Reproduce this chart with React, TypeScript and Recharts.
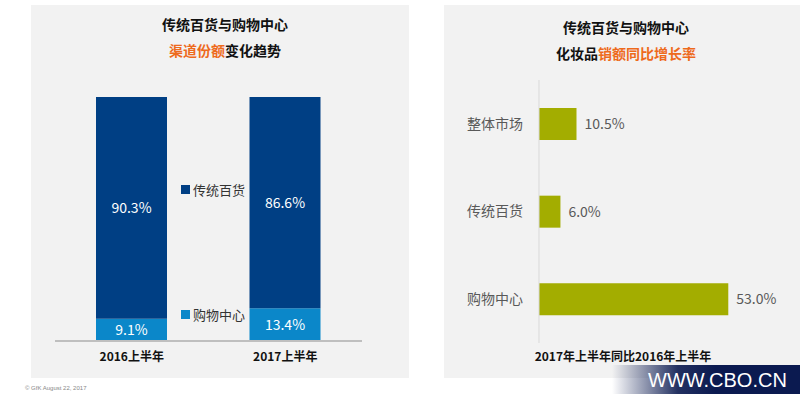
import { BarChart, Bar, XAxis, YAxis, LabelList, Legend } from "recharts";

const periods = ["2016上半年", "2017上半年"];
const deptShare = [90.3, 86.6];
const mallShare = [9.1, 13.4];

const channels = ["整体市场", "传统百货", "购物中心"];
const growth = [10.5, 6.0, 53.0];

const DARK = "#003f84";
const LIGHT = "#0b87c9";
const OLIVE = "#a3ad00";
const PANEL = "#f2f2f2";
const ORANGE = "#ee6a1c";
const FONT = '"Noto Sans CJK SC", "Noto Sans", sans-serif';

const shareData = periods.map((p, i) => ({ period: p, dept: deptShare[i], mall: mallShare[i] }));
const growthData = channels.map((c, i) => ({ channel: c, growth: growth[i] }));

const pct = (v: number) => `${Number(v).toFixed(1)}%`;

const YearTick = ({ x, y, payload }: any) => (
  <text x={x} y={y} dy={12} textAnchor="middle" fontSize={12} fontWeight="bold" fill="#111" fontFamily={FONT}>
    {payload.value}
  </text>
);

// dark series sits next to the top of the bars, light one down by the base
const ShareLegend = ({ payload }: any) => {
  const items = [...(payload || [])].sort((a: any) => (a.dataKey === "dept" ? -1 : 1));
  return (
    <div style={{ fontFamily: FONT, fontSize: 13, color: "#333" }}>
      {items.map((it: any, i: number) => (
        <div key={it.value} style={{ display: "flex", alignItems: "center", height: 18, marginTop: i === 0 ? 0 : 107 }}>
          <span style={{ width: 9, height: 9, background: it.color, marginRight: 3, display: "inline-block" }} />
          {it.value}
        </div>
      ))}
    </div>
  );
};

const titleLine: React.CSSProperties = {
  fontFamily: FONT,
  fontWeight: "bold",
  fontSize: 14,
  color: "#111",
  textAlign: "center",
  lineHeight: "26px",
};

export default function App() {
  return (
    <div style={{ position: "absolute", left: 0, top: 0, width: 800, height: 394, background: "#fff", overflow: "hidden" }}>
      {/* left panel */}
      <div style={{ position: "absolute", left: 31, top: 5, width: 378, height: 373, background: PANEL }}>
        <div style={{ position: "absolute", left: 0, top: 6, width: 388 }}>
          <div style={titleLine}>传统百货与购物中心</div>
          <div style={titleLine}>
            <span style={{ color: ORANGE }}>渠道份额</span>变化趋势
          </div>
        </div>
        <div style={{ position: "absolute", left: 0, top: 0 }}>
          <BarChart
            width={378}
            height={373}
            data={shareData}
            stackOffset="expand"
            barSize={71}
            margin={{ top: 92, right: 47, left: 24, bottom: 0 }}
          >
            <XAxis
              dataKey="period"
              height={37}
              axisLine={{ stroke: "#bfbfbf", strokeWidth: 2 }}
              tickLine={false}
              tick={<YearTick />}
            />
            <YAxis hide domain={[0, 1]} />
            <Legend
              layout="vertical"
              align="center"
              verticalAlign="middle"
              wrapperStyle={{ left: 150, top: 175, width: 90 }}
              content={<ShareLegend />}
            />
            <Bar dataKey="mall" name="购物中心" stackId="s" fill={LIGHT} legendType="square" isAnimationActive={false}>
              <LabelList dataKey="mall" position="center" fill="#fff" fontSize={14} fontFamily={FONT} formatter={pct as any} />
            </Bar>
            <Bar dataKey="dept" name="传统百货" stackId="s" fill={DARK} legendType="square" isAnimationActive={false}>
              <LabelList dataKey="dept" position="center" fill="#fff" fontSize={14} fontFamily={FONT} formatter={pct as any} />
            </Bar>
          </BarChart>
        </div>
      </div>

      {/* right panel */}
      <div style={{ position: "absolute", left: 444, top: 5, width: 356, height: 373, background: PANEL }}>
        <div style={{ position: "absolute", left: 0, top: 9, width: 364 }}>
          <div style={titleLine}>传统百货与购物中心</div>
          <div style={titleLine}>
            化妆品<span style={{ color: ORANGE }}>销额同比增长率</span>
          </div>
        </div>
        <div style={{ position: "absolute", left: 0, top: 0 }}>
          <BarChart
            width={356}
            height={373}
            data={growthData}
            layout="vertical"
            barSize={32}
            margin={{ top: 75, right: 11, left: 0, bottom: 35 }}
          >
            <XAxis type="number" hide domain={[0, 70]} />
            <YAxis
              type="category"
              dataKey="channel"
              width={95}
              axisLine={{ stroke: "#d9d9d9" }}
              tickLine={false}
              tickMargin={10}
              tick={{ fontSize: 14, fill: "#595959", fontFamily: FONT }}
            />
            <Bar dataKey="growth" fill={OLIVE} isAnimationActive={false}>
              <LabelList dataKey="growth" position="right" offset={8} fill="#595959" fontSize={14} fontFamily={FONT} formatter={pct as any} />
            </Bar>
          </BarChart>
        </div>
        <div
          style={{
            position: "absolute",
            left: 0,
            top: 342,
            width: 358,
            textAlign: "center",
            fontFamily: FONT,
            fontWeight: "bold",
            fontSize: 12,
            color: "#111",
          }}
        >
          2017年上半年同比2016年上半年
        </div>
      </div>

      {/* footer */}
      <div style={{ position: "absolute", left: 25, top: 385, fontFamily: "Arial, sans-serif", fontSize: 6, color: "#888" }}>
        © GfK August 22, 2017
      </div>
      <div
        style={{
          position: "absolute",
          left: 612,
          top: 365,
          width: 188,
          height: 29,
          background: "linear-gradient(to right, rgba(11,26,80,0) 0%, rgba(11,26,80,0.9) 35%, #0b1a50 55%)",
        }}
      />
      <div
        style={{
          position: "absolute",
          left: 648,
          top: 366,
          fontFamily: "Arial, 'Liberation Sans', sans-serif",
          fontSize: 20,
          color: "#fff",
          lineHeight: "28px",
          whiteSpace: "nowrap",
        }}
      >
        WWW.CBO.CN
      </div>
    </div>
  );
}
